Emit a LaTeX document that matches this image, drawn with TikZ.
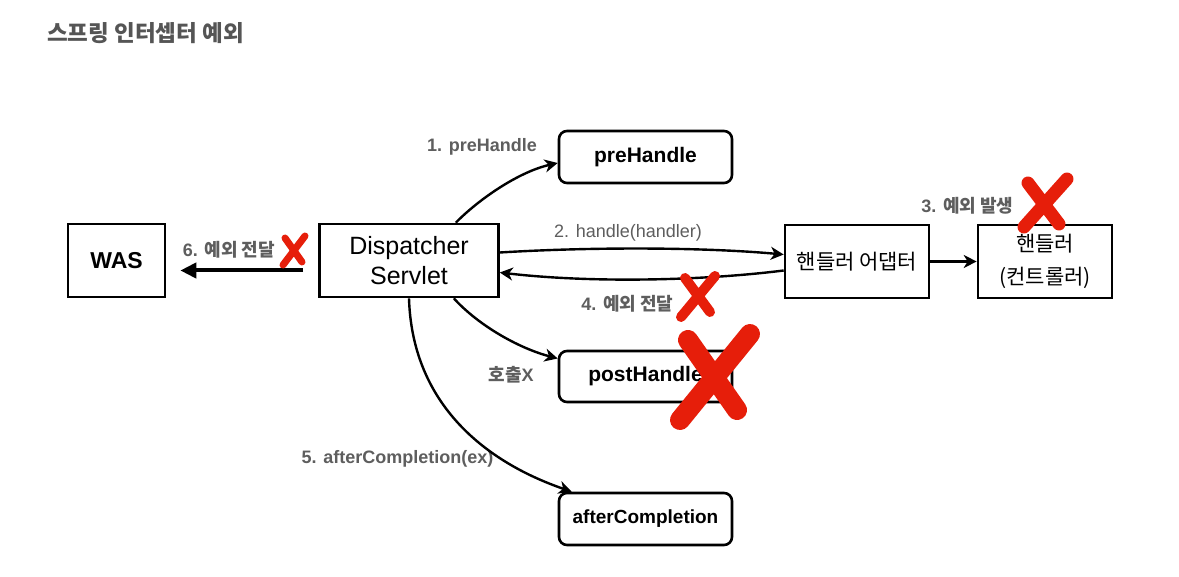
\documentclass[tikz,border=0pt]{standalone}
\usepackage{fontspec}
\setmainfont{Liberation Sans}
\newfontfamily\kr{Noto Sans CJK KR}
\usetikzlibrary{arrows.meta}
\definecolor{lbl}{HTML}{5E5E5E}
\definecolor{ttl}{HTML}{555555}
\definecolor{xred}{HTML}{E61E0A}
\begin{document}
\begin{tikzpicture}[x=1pt,y=-1pt,
  box/.style={draw,line width=2.6pt,inner sep=0pt,align=center},
  rbox/.style={box,rounded corners=8pt},
  lab/.style={text=lbl,font=\fontsize{18}{20}\selectfont\bfseries,inner sep=0pt},
  labr/.style={text=lbl,font=\fontsize{18}{20}\selectfont,inner sep=0pt},
  arr/.style={line width=2.4pt,-{Stealth[length=13pt,width=13pt,inset=4pt]}},
  xm/.style={draw=xred,line cap=round}
]
\useasboundingbox[fill=white] (0,0) rectangle (1179,577);

\node[anchor=west,text=ttl,inner sep=0pt,font=\fontsize{22.5}{26}\selectfont\kr\bfseries] (title) at (47,33) {스프링 인터셉터 예외};

\node[box,minimum width=97pt,minimum height=73pt,font=\fontsize{23}{28}\selectfont\bfseries] (WAS) at (116.5,260.5) {WAS};
\node[box,minimum width=179pt,minimum height=73pt,font=\fontsize{25}{30}\selectfont] (DS) at (409,260.5) {Dispatcher\\Servlet};
\node[rbox,minimum width=173pt,minimum height=52pt,font=\fontsize{21}{24}\selectfont\bfseries] (pre) at (645.5,157) {preHandle};
\node[rbox,minimum width=173pt,minimum height=51pt,font=\fontsize{21}{24}\selectfont\bfseries] (post) at (645.5,376.5) {postHandle};
\node[rbox,minimum width=173pt,minimum height=52pt,font=\fontsize{19}{24}\selectfont\bfseries] (after) at (645.5,519) {afterCompletion};
\node[box,minimum width=144pt,minimum height=73pt,font=\fontsize{21}{24}\selectfont\kr] (adapter) at (857,261.5) {핸들러 어댑터};
\node[box,minimum width=134pt,minimum height=73pt,font=\fontsize{21}{33}\selectfont\kr] (handler) at (1045,261.5) {핸들러\\(컨트롤러)};

% labels
\node[lab] (l1) at (482,147) {1. preHandle};
\node[labr] (l2) at (628,233) {2. handle(handler)};
\node[lab] (l4) at (627.5,304) {4. {\kr 예외 전달}};
\node[lab] (l3) at (967.5,205.5) {3. {\kr 예외 발생}};
\node[lab] (l6) at (229,249.5) {6. {\kr 예외 전달}};
\node[lab] (lx) at (511,375) {{\kr 호출}X};
\node[lab] (l5) at (397.5,458.5) {5. afterCompletion(ex)};

% connectors
\draw[arr] ([xshift=-44pt]DS.north east) .. controls (478,200) and (518,172) .. ([yshift=-6pt]pre.west);
\draw[arr] ([yshift=8pt]DS.east) .. controls (590,247) and (700,247) .. ([yshift=7pt]adapter.west);
\draw[arr] ([yshift=-9pt]adapter.west) .. controls (700,281) and (590,283) .. ([yshift=-12pt]DS.east);
\draw[arr] (adapter) -- (handler);
\draw[line width=4pt,-{Triangle[length=16pt,width=15pt]}] ([xshift=-15pt,yshift=-10pt]DS.west) -- ([xshift=14pt,yshift=-10pt]WAS.east);
\draw[arr] ([xshift=-46pt]DS.south east) .. controls (478,325) and (518,348) .. ([yshift=18pt]post.west);
\draw[arr] (DS.south) .. controls (412,400) and (480,460) .. ([xshift=14pt]after.north west);

% red crosses
\draw[xm,line width=7pt] (285,238) -- (302,262) (305,236) -- (283,265);
\draw[xm,line width=10pt] (685,278) -- (710,312) (715,276) -- (681,317);
\draw[xm,line width=13pt] (1028,183) -- (1059,224) (1067,179) -- (1024,227);
\draw[xm,line width=20pt] (688,340) -- (737,410) (750,334) -- (680,420);
\end{tikzpicture}
\end{document}
